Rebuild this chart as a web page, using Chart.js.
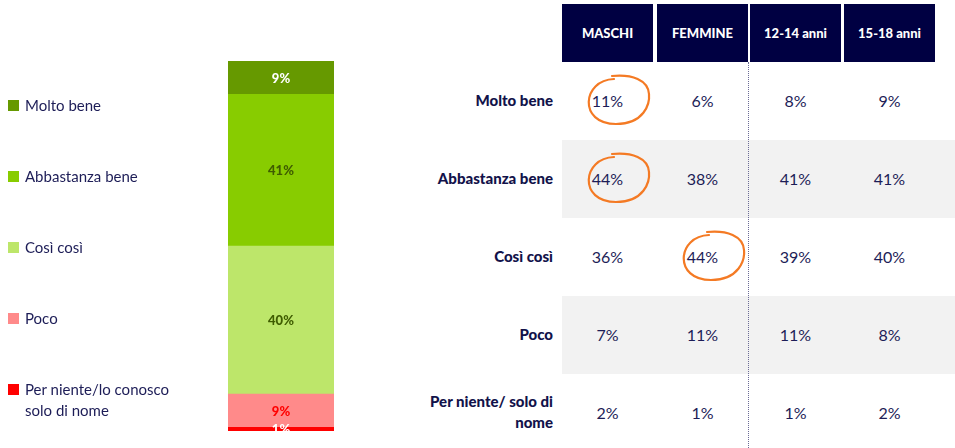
<!DOCTYPE html>
<html lang="it">
<head>
<meta charset="utf-8">
<script src="https://cdn.jsdelivr.net/npm/chart.js@4"></script>
<style>
    body { margin: 0; width: 955px; height: 448px; overflow: hidden; background: #fff; font-family: Lato, sans-serif; position: relative; }
    #barWrap { position: absolute; left: 228px; top: 61px; width: 106px; height: 370px; }
    .leg { position: absolute; left: 8px; font-size: 15px; color: #1d1d57; line-height: 21px; }
    .leg i { position: absolute; left: 0; top: 5px; width: 11px; height: 11px; }
    .leg span { display: block; margin-left: 17px; }
    .cell { position: absolute; display: flex; align-items: center; justify-content: center; text-align: center; }
    .head { background: #000042; color: #fff; font-weight: 900; font-size: 13px; top: 4px; height: 58px; width: 91px; }
    .rowlab { color: #12124a; font-weight: 900; font-size: 15px; justify-content: flex-end; text-align: right; width: 170px; left: 383px; line-height: 21px; }
    .val { color: #1d1d57; font-size: 16px; width: 91px; }
    .band { position: absolute; left: 562px; width: 393px; height: 78px; background: #f2f2f2; }
    #sep { position: absolute; left: 748px; top: 62px; height: 386px; border-left: 1px dotted #6b6b95; }
    svg { position: absolute; left: 0; top: 0; }
</style>
</head>
<body>
<div id="barWrap"><canvas id="barChart"></canvas></div>
<div id="table"></div>
<svg width="955" height="448" id="marks"></svg>
<script>
    // Totale
    const answers = ["Molto bene", "Abbastanza bene", "Così così", "Poco", "Per niente/lo conosco solo di nome"];
    const totals = [9, 41, 40, 9, 1];
    const colors = ["#669900", "#88cc00", "#bde66a", "#ff8a8a", "#ff0000"];
    const labelColors = ["#ffffff", "#3f5c00", "#3f5c00", "#ff0000", "#ffffff"];

    // Tabella per genere / eta
    const groups = ["MASCHI", "FEMMINE", "12-14 anni", "15-18 anni"];
    const rowLabels = ["Molto bene", "Abbastanza bene", "Così così", "Poco", "Per niente/ solo di nome"];
    const maschi = [11, 44, 36, 7, 2];
    const femmine = [6, 38, 44, 11, 1];
    const anni1214 = [8, 41, 39, 11, 1];
    const anni1518 = [9, 41, 40, 8, 2];
    const highlighted = [[0, 0], [0, 1], [1, 2]]; // [col, row]

    // legend
    const legTops = [95, 166, 237, 308, 379];
    answers.forEach((a, i) => {
        const d = document.createElement('div');
        d.className = 'leg';
        d.style.top = legTops[i] + 'px';
        d.style.width = i === 4 ? '180px' : '220px';
        d.innerHTML = '<i style="background:' + colors[i] + '"></i><span>' + a + '</span>';
        document.body.appendChild(d);
    });

    new Chart(document.getElementById('barChart'), {
        type: 'bar',
        data: {
            labels: ['Totale'],
            datasets: answers.map((a, i) => ({
                label: a,
                data: [totals[i]],
                backgroundColor: colors[i],
                borderWidth: 0,
                barPercentage: 1,
                categoryPercentage: 1
            })).reverse()
        },
        options: {
            responsive: true,
            maintainAspectRatio: false,
            animation: false,
            layout: { padding: 0 },
            scales: {
                x: { stacked: true, display: false },
                y: { stacked: true, display: false, min: 0, max: 100 }
            },
            plugins: { legend: { display: false }, tooltip: { enabled: false } }
        },
        plugins: [{
            id: 'valueLabels',
            afterDatasetsDraw(chart) {
                const ctx = chart.ctx;
                ctx.save();
                ctx.font = "900 13px Lato, sans-serif";
                ctx.textAlign = 'center';
                ctx.textBaseline = 'middle';
                chart.data.datasets.forEach((ds, i) => {
                    const bar = chart.getDatasetMeta(i).data[0];
                    const idx = answers.indexOf(ds.label);
                    ctx.fillStyle = labelColors[idx];
                    ctx.fillText(ds.data[0] + '%', bar.x, (bar.y + bar.base) / 2 + 1);
                });
                ctx.restore();
            }
        }]
    });

    // table
    const table = document.getElementById('table');
    const colLeft = [562, 657, 750, 844];
    const rowTop = [62, 140, 218, 296, 374];
    const cols = [maschi, femmine, anni1214, anni1518];
    [1, 3].forEach(r => {
        const b = document.createElement('div');
        b.className = 'band';
        b.style.top = rowTop[r] + 'px';
        table.appendChild(b);
    });
    const sep = document.createElement('div');
    sep.id = 'sep';
    table.appendChild(sep);
    groups.forEach((g, c) => {
        const h = document.createElement('div');
        h.className = 'cell head';
        h.style.left = colLeft[c] + 'px';
        h.textContent = g;
        table.appendChild(h);
    });
    rowLabels.forEach((l, r) => {
        const h = document.createElement('div');
        h.className = 'cell rowlab';
        h.style.top = rowTop[r] + 'px';
        h.style.height = '76px';
        h.innerHTML = r === 4 ? 'Per niente/ solo di<br>nome' : l;
        table.appendChild(h);
        cols.forEach((vals, c) => {
            const v = document.createElement('div');
            v.className = 'cell val';
            v.style.left = colLeft[c] + 'px';
            v.style.top = rowTop[r] + 'px';
            v.style.height = '76px';
            v.textContent = vals[r] + '%';
            table.appendChild(v);
        });
    });

    // orange circles
    const svg = document.getElementById('marks');
    highlighted.forEach(([c, r]) => {
        const cx = colLeft[c] + 56, cy = rowTop[r] + 38;
        const p = document.createElementNS('http://www.w3.org/2000/svg', 'path');
        p.setAttribute('d', 'M' + (cx - 4) + ' ' + (cy - 21) +
            ' C' + (cx - 36) + ' ' + (cy - 20) + ' ' + (cx - 40) + ' ' + (cy + 24) + ' ' + (cx - 2) + ' ' + (cy + 24) +
            ' C' + (cx + 26) + ' ' + (cy + 24) + ' ' + (cx + 32) + ' ' + (cy + 4) + ' ' + (cx + 31) + ' ' + (cy - 6) +
            ' C' + (cx + 30) + ' ' + (cy - 20) + ' ' + (cx + 14) + ' ' + (cy - 26) + ' ' + (cx - 6) + ' ' + (cy - 24));
        p.setAttribute('fill', 'none');
        p.setAttribute('stroke', '#f47a24');
        p.setAttribute('stroke-width', '2.2');
        p.setAttribute('stroke-linecap', 'round');
        svg.appendChild(p);
    });
</script>
</body>
</html>
